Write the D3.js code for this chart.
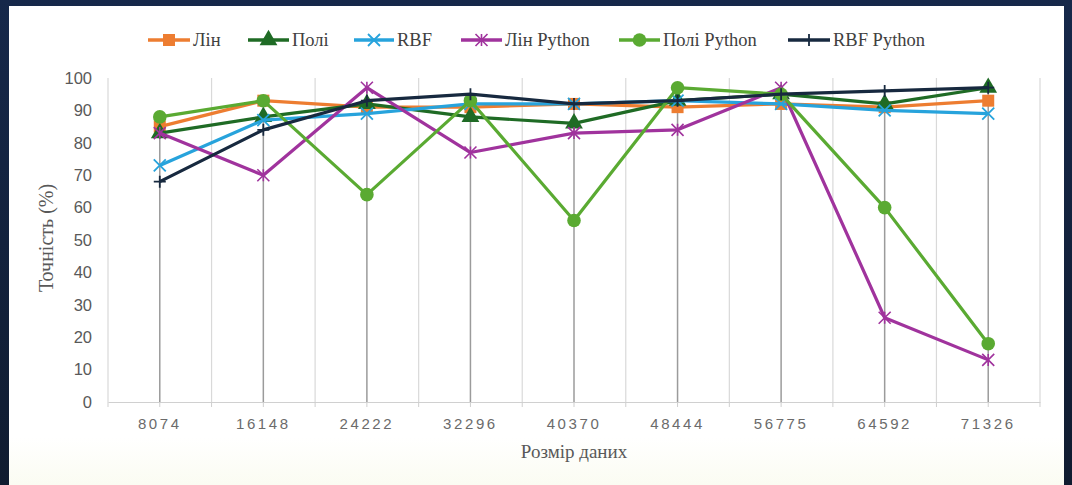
<!DOCTYPE html>
<html>
<head>
<meta charset="utf-8">
<script src="https://cdn.jsdelivr.net/npm/d3@7"></script>
<style>
  html, body { margin: 0; padding: 0; background: #13243f; }
  svg { display: block; }
</style>
</head>
<body>
<svg id="chart" width="1072" height="485"></svg>
<script>
// Dataset sizes along the x axis
const categories = ["8074", "16148", "24222", "32296", "40370", "48444", "56775", "64592", "71326"];

// Accuracy (%) of each model per dataset size
const linValues       = [85, 93, 91, 91, 92, 91, 92, 91, 93];
const poliValues      = [83, 88, 92, 88, 86, 93, 95, 92, 97];
const rbfValues       = [73, 87, 89, 92, 92, 93, 92, 90, 89];
const linPyValues     = [83, 70, 97, 77, 83, 84, 97, 26, 13];
const poliPyValues    = [88, 93, 64, 93, 56, 97, 95, 60, 18];
const rbfPyValues     = [68, 84, 93, 95, 92, 93, 95, 96, 97];

const seriesNames = ["Лін", "Полі", "RBF", "Лін Python", "Полі Python", "RBF Python"];
const yTicks = [0, 10, 20, 30, 40, 50, 60, 70, 80, 90, 100];

const series = [
  { name: seriesNames[0], values: linValues,    color: "#ed7d31", marker: "square" },
  { name: seriesNames[1], values: poliValues,   color: "#1f6b25", marker: "triangle" },
  { name: seriesNames[2], values: rbfValues,    color: "#27a3dc", marker: "x" },
  { name: seriesNames[3], values: linPyValues,  color: "#a0339d", marker: "star" },
  { name: seriesNames[4], values: poliPyValues, color: "#5aaa32", marker: "circle" },
  { name: seriesNames[5], values: rbfPyValues,  color: "#17293f", marker: "plus" }
];

const serif = "'Liberation Serif', 'Times New Roman', serif";
const sans = "'Liberation Sans', Arial, sans-serif";

const svg = d3.select("#chart");
const defs = svg.append("defs");

// Dark frame and white panel
const bg = defs.append("linearGradient")
  .attr("id", "frame").attr("x1", 0).attr("x2", 0).attr("y1", 0).attr("y2", 1);
bg.append("stop").attr("offset", 0).attr("stop-color", "#16284a");
bg.append("stop").attr("offset", 1).attr("stop-color", "#101c30");
svg.append("rect").attr("width", 1072).attr("height", 485).attr("fill", "url(#frame)");
const panelGrad = defs.append("linearGradient")
  .attr("id", "panel").attr("x1", 0).attr("x2", 0).attr("y1", 0).attr("y2", 1);
panelGrad.append("stop").attr("offset", 0.9).attr("stop-color", "#ffffff");
panelGrad.append("stop").attr("offset", 1).attr("stop-color", "#fbfcf2");
svg.append("rect").attr("x", 9).attr("y", 6).attr("width", 1055).attr("height", 479)
  .attr("fill", "url(#panel)");

const plot = { left: 108, right: 1040, top: 78, bottom: 402 };

const x = d3.scaleBand().domain(categories).range([plot.left, plot.right]).padding(0);
const y = d3.scaleLinear().domain([0, 100]).range([plot.bottom, plot.top]);
const cx = c => x(c) + x.bandwidth() / 2;

// Vertical gridlines at category boundaries
const boundaries = categories.map(c => x(c)).concat([plot.right]);
svg.append("g").selectAll("line").data(boundaries).join("line")
  .attr("x1", d => d).attr("x2", d => d)
  .attr("y1", y(100)).attr("y2", y(0))
  .attr("stroke", "#d9d9d9").attr("stroke-width", 1.2);

// X axis line with small ticks
const xAxis = d3.axisBottom(x).tickSize(0).tickPadding(16);
const gx = svg.append("g").attr("transform", `translate(0,${plot.bottom})`).call(xAxis);
gx.select(".domain").attr("stroke", "#d0d0d0").attr("stroke-width", 1.2);
gx.selectAll("text")
  .attr("font-family", sans)
  .attr("font-size", 15).attr("fill", "#6b6b6b").attr("letter-spacing", "2.6px");
const tickXs = boundaries.concat(categories.map(cx));
svg.append("g").selectAll("line").data(tickXs).join("line")
  .attr("x1", d => d).attr("x2", d => d)
  .attr("y1", plot.bottom).attr("y2", plot.bottom + 5)
  .attr("stroke", "#cfcfcf").attr("stroke-width", 1);

// Y axis labels
const yAxis = d3.axisLeft(y).tickValues(yTicks).tickSize(0).tickPadding(16);
const gy = svg.append("g").attr("transform", `translate(${plot.left},0)`).call(yAxis);
gy.select(".domain").remove();
gy.selectAll("text")
  .attr("font-family", sans)
  .attr("font-size", 16.5).attr("fill", "#595959");

// Drop lines from the highest point down to the axis
svg.append("g").selectAll("line").data(categories).join("line")
  .attr("x1", c => cx(c)).attr("x2", c => cx(c))
  .attr("y1", (c, i) => y(d3.max(series, s => s.values[i])))
  .attr("y2", y(0))
  .attr("stroke", "#9b9b9b").attr("stroke-width", 1.5);

// Marker drawing
function drawMarker(g, type, color, size) {
  const s = size;
  if (type === "square") {
    g.append("rect").attr("x", -s / 2).attr("y", -s / 2).attr("width", s).attr("height", s)
      .attr("fill", color);
  } else if (type === "triangle") {
    g.append("path").attr("d", d3.symbol(d3.symbolTriangle, s * s * 0.95)())
      .attr("fill", color);
  } else if (type === "circle") {
    g.append("circle").attr("r", s / 2 + 0.8).attr("fill", color);
  } else if (type === "x") {
    const h = s / 2;
    g.append("path").attr("d", `M${-h},${-h}L${h},${h}M${-h},${h}L${h},${-h}`)
      .attr("stroke", color).attr("stroke-width", 1.8).attr("fill", "none");
  } else if (type === "star") {
    const h = s / 2;
    g.append("path").attr("d", `M${-h},${-h}L${h},${h}M${-h},${h}L${h},${-h}M0,${-h}L0,${h}`)
      .attr("stroke", color).attr("stroke-width", 1.6).attr("fill", "none");
  } else if (type === "plus") {
    const h = s / 2;
    g.append("path").attr("d", `M${-h},0L${h},0M0,${-h}L0,${h}`)
      .attr("stroke", color).attr("stroke-width", 1.8).attr("fill", "none");
  }
}

// Series lines and markers
const line = d3.line().x((d, i) => cx(categories[i])).y(d => y(d));
const gs = svg.append("g").selectAll("g").data(series).join("g");
gs.append("path")
  .attr("d", s => line(s.values))
  .attr("fill", "none").attr("stroke", s => s.color).attr("stroke-width", 3.2)
  .attr("stroke-linejoin", "round");
gs.each(function (s) {
  const g = d3.select(this);
  s.values.forEach((v, i) => {
    const m = g.append("g").attr("transform", `translate(${cx(categories[i])},${y(v)})`);
    drawMarker(m, s.marker, s.color, 12);
  });
});

// Legend
const legendItems = [
  { x: 148, w: 42 }, { x: 248, w: 41 }, { x: 354, w: 40 },
  { x: 461, w: 41 }, { x: 619, w: 41 }, { x: 788, w: 42 }
];
const lg = svg.append("g").attr("transform", "translate(0,40)");
series.forEach((s, i) => {
  const it = legendItems[i];
  const g = lg.append("g").attr("transform", `translate(${it.x},0)`);
  g.append("line").attr("x1", 0).attr("x2", it.w).attr("y1", 0).attr("y2", 0)
    .attr("stroke", s.color).attr("stroke-width", 3.5);
  const m = g.append("g").attr("transform", `translate(${it.w / 2},0)`);
  drawMarker(m, s.marker, s.color, 12);
  g.append("text").attr("x", it.w + 3).attr("y", 6)
    .attr("font-family", serif)
    .attr("font-size", 18.5).attr("fill", "#404040")
    .text(s.name);
});

// Axis titles
svg.append("text")
  .attr("transform", `translate(53,${(plot.top + plot.bottom) / 2 - 2}) rotate(-90)`)
  .attr("text-anchor", "middle")
  .attr("font-family", serif)
  .attr("font-size", 20).attr("fill", "#595959")
  .text("Точність (%)");
svg.append("text")
  .attr("x", (plot.left + plot.right) / 2).attr("y", 458)
  .attr("text-anchor", "middle")
  .attr("font-family", serif)
  .attr("font-size", 19).attr("fill", "#595959")
  .text("Розмір даних");
</script>
</body>
</html>
